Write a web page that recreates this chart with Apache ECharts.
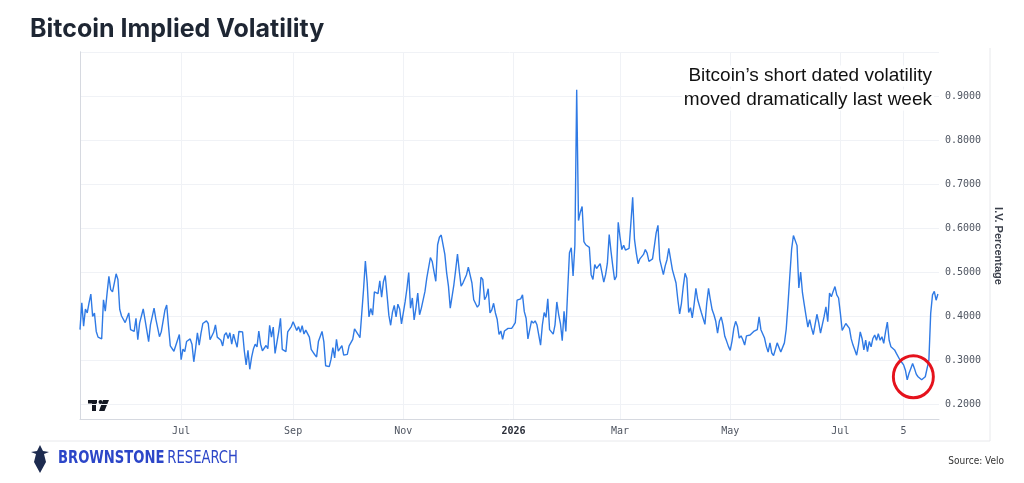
<!DOCTYPE html>
<html>
<head>
    <meta charset="utf-8">
    <title>Bitcoin Implied Volatility</title>
    <script src="https://cdn.jsdelivr.net/npm/echarts@6/dist/echarts.min.js"></script>
    <style>
        html, body { margin: 0; padding: 0; background: #fff; }
        #main { width: 1024px; height: 483px; }
    </style>
</head>
<body>
<div id="main"></div>
<script type="text/javascript">
    // daily implied vol, first value = 2025-05-06 (null = day not read, line is connected)
    var startDate = Date.UTC(2025, 4, 6);
    var DAY = 86400000;
    var ivDaily = [
        0.369, 0.430, 0.377, 0.416, 0.407, 0.430, 0.450, 0.399, 0.407, 0.365,
        0.352, 0.348, 0.348, 0.437, 0.411, 0.452, 0.490, 0.460, 0.455, 0.475,
        0.496, 0.483, 0.415, 0.400, null, 0.385, null, 0.407, 0.369, 0.369,
        0.365, 0.395, 0.346, 0.384, null, 0.416, 0.392, null, 0.342, 0.380,
        0.382, 0.418, 0.393, 0.393, 0.353, 0.364, null, 0.413, 0.425, 0.377,
        0.332, null, 0.320, 0.324, null, 0.358, 0.301, 0.325, 0.319, 0.342,
        0.345, 0.348, 0.336, 0.296, 0.326, 0.362, 0.334, 0.361, 0.383, null,
        0.389, 0.383, 0.346, 0.348, 0.363, 0.380, 0.352, 0.349, 0.345, 0.332,
        0.357, 0.362, 0.349, 0.362, 0.336, 0.359, 0.343, 0.329, 0.365, 0.368,
        0.364, 0.320, 0.289, 0.322, 0.279, 0.306, 0.325, 0.336, 0.330, 0.366,
        0.336, 0.321, 0.318, 0.333, 0.326, 0.379, 0.352, 0.375, 0.315, 0.311,
        0.364, 0.395, 0.324, 0.327, 0.319, 0.364, 0.368, 0.376, 0.387, 0.388,
        0.367, 0.376, 0.363, 0.378, 0.359, 0.368, 0.365, 0.352, 0.324, 0.318,
        0.312, 0.307, 0.342, 0.345, 0.365, 0.342, 0.287, 0.286, 0.285, 0.302,
        0.328, 0.305, 0.347, 0.320, 0.324, 0.333, 0.311, 0.311, 0.313, 0.332,
        0.330, 0.347, 0.371, 0.373, 0.358, 0.351, 0.353, 0.461, 0.525, 0.476,
        0.398, 0.417, 0.402, 0.455, 0.458, 0.451, 0.480, 0.443, 0.478, 0.492,
        0.448, 0.402, 0.379, 0.409, 0.424, 0.398, 0.427, 0.416, 0.382, 0.386,
        0.432, 0.462, 0.499, 0.418, 0.441, 0.391, 0.418, 0.452, 0.403, 0.418,
        0.414, 0.456, 0.486, 0.487, 0.533, 0.524, 0.501, 0.479, 0.562, 0.579,
        0.584, 0.586, 0.540, 0.498, 0.468, 0.418, 0.418, 0.471, 0.505, 0.541,
        0.502, 0.468, 0.475, 0.479, 0.494, 0.511, 0.509, 0.475, 0.437, 0.434,
        0.420, 0.426, 0.488, 0.483, 0.437, 0.445, 0.462, 0.407, 0.414, 0.429,
        0.407, 0.392, 0.358, 0.366, 0.347, 0.366, 0.368, 0.372, 0.368, 0.372,
        0.378, 0.385, 0.436, 0.439, 0.439, 0.448, 0.410, 0.395, 0.348, 0.369,
        0.389, 0.384, 0.389, 0.380, 0.376, 0.334, 0.380, 0.408, 0.397, 0.439,
        0.369, 0.365, 0.359, 0.380, 0.432, 0.404, 0.383, 0.344, 0.411, 0.365,
        0.457, 0.544, 0.555, 0.491, 0.561, 0.914, 0.617, 0.636, 0.649, 0.569,
        0.562, 0.558, 0.556, 0.494, 0.483, 0.517, 0.508, 0.512, 0.519, 0.498,
        0.477, 0.494, 0.520, 0.585, 0.547, 0.513, 0.482, 0.490, 0.613, 0.579,
        0.551, 0.561, 0.550, null, 0.554, 0.611, 0.670, 0.574, 0.543, 0.519,
        0.530, 0.528, 0.540, 0.551, 0.543, 0.524, 0.520, 0.530, 0.559, 0.589,
        0.606, 0.528, 0.525, 0.494, 0.514, 0.528, 0.554, 0.551, 0.505, 0.503,
        0.475, 0.437, 0.405, 0.429, 0.467, 0.497, 0.486, 0.408, 0.419, 0.396,
        0.426, 0.463, 0.437, 0.436, 0.408, 0.406, 0.381, 0.429, 0.463, 0.437,
        0.414, 0.403, 0.388, 0.361, 0.388, 0.398, 0.380, 0.354, 0.343, 0.331,
        0.322, 0.343, 0.372, 0.388, 0.377, 0.350, 0.355, 0.346, 0.334, 0.355,
        0.359, 0.357, 0.354, 0.365, 0.361, 0.369, 0.398, 0.369, 0.365, 0.350,
        0.331, 0.318, 0.339, 0.316, 0.310, 0.324, 0.339, 0.335, 0.318, 0.320,
        0.339, 0.370, 0.427, 0.491, 0.552, 0.583, 0.582, 0.560, 0.464, 0.500,
        0.453, 0.426, 0.400, 0.375, 0.392, 0.373, 0.358, 0.356, 0.404, 0.385,
        0.361, 0.357, 0.399, 0.421, 0.387, 0.452, 0.444, 0.456, 0.467, 0.448,
        0.441, 0.406, 0.367, 0.367, 0.383, 0.387, 0.372, 0.348, 0.334, 0.323,
        0.311, 0.334, 0.364, 0.349, 0.323, 0.345, 0.319, 0.342, 0.330, 0.349,
        0.357, 0.345, 0.360, 0.345, 0.353, 0.338, 0.364, 0.386, 0.345, 0.330,
        0.326, 0.323, 0.315, 0.311, 0.300, 0.300, 0.289, 0.277, 0.255, 0.270,
        0.281, 0.292, 0.281, 0.268, 0.262, 0.258, 0.255, 0.258, 0.262, 0.266,
        0.300, 0.406, 0.448, 0.456, 0.436, 0.450
    ];

    var tickDates = ['2025-07-01', '2025-09-01', '2025-11-01', '2026-01-01', '2026-03-01', '2026-05-01', '2026-07-01', '2026-08-05'];
    var tickLabels = ['Jul', 'Sep', 'Nov', '2026', 'Mar', 'May', 'Jul', '5'];

    // red highlight ring around last week's dip (day index, value)
    var ringAt = [461.4, 0.262];

    // x axis runs in days since startDate
    var xEndDay = 475.6;
    function dayOf(d) {
        var p = d.split('-');
        return (Date.UTC(+p[0], +p[1] - 1, +p[2]) - startDate) / DAY;
    }
    var tickDays = tickDates.map(dayOf);

    var seriesData = ivDaily.map(function (v, i) {
        return [i, v];
    });

    var monoFont = 'DejaVu Sans Mono';
    var myChart = echarts.init(document.getElementById('main'));

    var option = {
        backgroundColor: '#ffffff',
        animation: false,
        grid: {
            left: 80,
            right: 85,
            top: 52,
            bottom: 64
        },
        xAxis: {
            type: 'value',
            min: 0,
            max: xEndDay,
            axisLine: {show: true, lineStyle: {color: '#d6d9e0'}},
            axisTick: {show: false, customValues: tickDays},
            axisLabel: {
                customValues: tickDays,
                margin: 7,
                fontFamily: monoFont,
                fontSize: 10,
                color: '#4f5561',
                formatter: function (val) {
                    var best = 0;
                    for (var i = 1; i < tickDays.length; i++) {
                        if (Math.abs(tickDays[i] - val) < Math.abs(tickDays[best] - val)) best = i;
                    }
                    return tickLabels[best] === '2026' ? '{b|2026}' : tickLabels[best];
                },
                rich: {
                    b: {fontFamily: monoFont, fontSize: 10, fontWeight: 'bold', color: '#2a2e39'}
                }
            },
            splitLine: {show: true, lineStyle: {color: '#f0f2f6', width: 1}}
        },
        yAxis: [
            {
                type: 'value',
                position: 'right',
                min: 0.166,
                max: 1.0,
                splitNumber: 8,
                axisLine: {show: true, lineStyle: {color: '#d6d9e0'}},
                axisTick: {show: false},
                axisLabel: {
                    showMinLabel: false,
                    showMaxLabel: false,
                    margin: 6,
                    fontFamily: monoFont,
                    fontSize: 10,
                    color: '#4f5561',
                    formatter: function (v) { return v.toFixed(4); }
                },
                splitLine: {show: true, lineStyle: {color: '#f0f2f6', width: 1}}
            },
            {
                type: 'value',
                position: 'left',
                axisLine: {show: true, lineStyle: {color: '#d6d9e0'}},
                axisTick: {show: false},
                axisLabel: {show: false},
                splitLine: {show: false}
            }
        ],
        series: [
            {
                name: 'I.V.',
                type: 'line',
                yAxisIndex: 0,
                data: seriesData,
                showSymbol: false,
                connectNulls: true,
                lineStyle: {color: '#2f7ae5', width: 1.4},
                itemStyle: {color: '#2f7ae5'},
                markPoint: {
                    silent: true,
                    symbol: 'circle',
                    symbolSize: [40, 42],
                    label: {show: false},
                    itemStyle: {color: 'rgba(0,0,0,0)', borderColor: '#e5121c', borderWidth: 3},
                    data: [{coord: ringAt}]
                }
            }
        ],
        graphic: [
            {
                type: 'text', left: 30, top: 17,
                style: {text: 'Bitcoin Implied Volatility', fontFamily: 'Inter', fontWeight: 'bold', fontSize: 25, fill: '#1e2633'}
            },
            {
                type: 'text', x: 934, y: 76, z: 10,
                style: {text: 'Bitcoin\u2019s short dated volatility', fontFamily: 'Liberation Sans', fontSize: 19, fill: '#111', align: 'right', verticalAlign: 'middle', backgroundColor: '#fff', padding: [1, 2]}
            },
            {
                type: 'text', x: 934, y: 100, z: 10,
                style: {text: 'moved dramatically last week', fontFamily: 'Liberation Sans', fontSize: 19, fill: '#111', align: 'right', verticalAlign: 'middle', backgroundColor: '#fff', padding: [1, 2]}
            },
            {
                type: 'text', x: 998, y: 246, rotation: -Math.PI / 2,
                style: {text: 'I.V. Percentage', fontFamily: 'Liberation Sans', fontWeight: 'bold', fontSize: 11, fill: '#3a3f4a', align: 'center', verticalAlign: 'middle'}
            },
            // frame
            {type: 'line', shape: {x1: 40, y1: 441, x2: 990, y2: 441}, style: {stroke: '#e8e9ec', lineWidth: 1}},
            {type: 'line', shape: {x1: 990, y1: 48, x2: 990, y2: 441}, style: {stroke: '#e8e9ec', lineWidth: 1}},
            // TradingView mark
            {type: 'rect', shape: {x: 88, y: 400, width: 9, height: 3.5}, style: {fill: '#131722'}},
            {type: 'rect', shape: {x: 92, y: 400, width: 4, height: 11}, style: {fill: '#131722'}},
            {type: 'circle', shape: {cx: 100.5, cy: 402, r: 2}, style: {fill: '#131722'}},
            {type: 'polygon', shape: {points: [[103, 400], [109, 400], [104.5, 411], [99, 411]]}, style: {fill: '#131722'}},
            // Brownstone logo
            {
                type: 'polygon',
                shape: {points: [[40, 445], [43, 451], [49, 452], [44, 454], [46, 462], [40, 473], [34, 462], [36, 454], [31, 452], [37, 451]]},
                style: {fill: '#1d2b4f'}
            },
            {
                type: 'text', x: 58, y: 459, scaleX: 0.86,
                style: {
                    text: '{b|BROWNSTONE} {r|RESEARCH}',
                    verticalAlign: 'middle',
                    rich: {
                        b: {fontFamily: 'DejaVu Sans Condensed', fontWeight: 'bold', fontSize: 17, fill: '#2c46c8'},
                        r: {fontFamily: 'DejaVu Sans Condensed', fontSize: 17, fill: '#2c46c8'}
                    }
                }
            },
            {
                type: 'text', x: 1004, y: 461,
                style: {text: 'Source: Velo', fontFamily: 'DejaVu Sans Condensed', fontSize: 10, fill: '#333', align: 'right', verticalAlign: 'middle'}
            }
        ]
    };

    myChart.setOption(option);
</script>
</body>
</html>
